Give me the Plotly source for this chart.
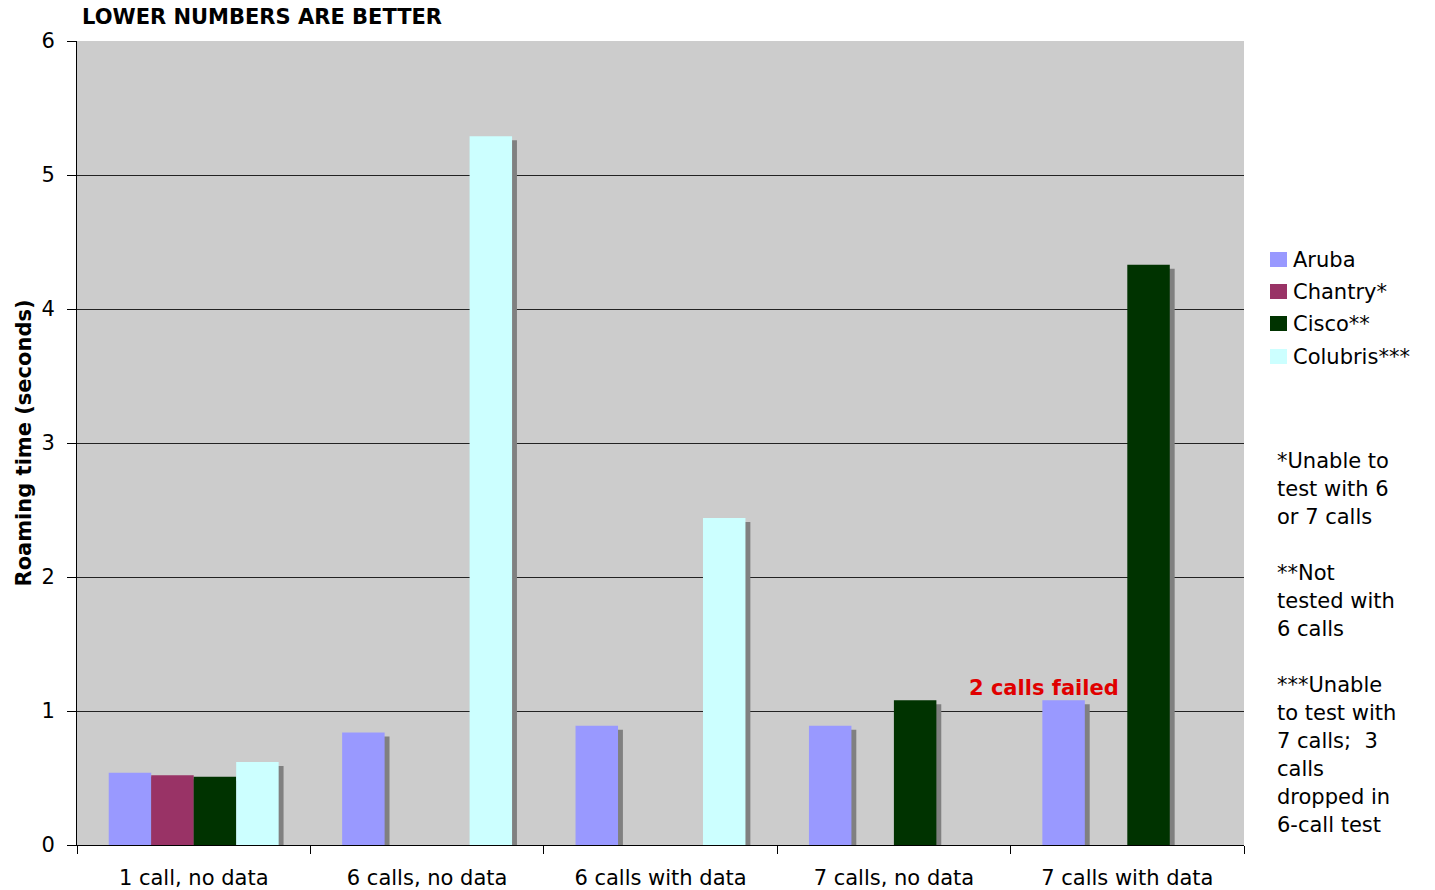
import plotly.graph_objects as go

categories = ["1 call, no data", "6 calls, no data", "6 calls with data",
              "7 calls, no data", "7 calls with data"]
series_names = ["Aruba", "Chantry*", "Cisco**", "Colubris***"]
aruba = [0.54, 0.84, 0.89, 0.89, 1.08]
chantry = [0.52, None, None, None, None]
cisco = [0.51, None, None, 1.08, 4.33]
colubris = [0.62, 5.29, 2.44, None, None]
series_values = [aruba, chantry, cisco, colubris]
colors = ["#9999FF", "#993366", "#003300", "#CCFFFF"]
y_ticks = [0, 1, 2, 3, 4, 5, 6]
footnotes = [["*Unable to", "test with 6", "or 7 calls"],
             ["**Not", "tested with", "6 calls"],
             ["***Unable", "to test with", "7 calls;  3", "calls", "dropped in", "6-call test"]]

FONT = "DejaVu Sans"
FS = 21
bar_w = 0.182
offsets = [-0.364, -0.182, 0.0, 0.182]
shadow_dx = 0.021
shadow_dy = 0.03

# plot area in pixels (for placing paper-referenced decorations)
L, R, T, B = 77, 1244, 41, 845
W, H = R - L, B - T
def px(x):
    return (x - L) / W
def py(y):
    return (B - y) / H

fig = go.Figure()
# drop shadows first
for vals, off in zip(series_values, offsets):
    sv = [None if v is None else v - shadow_dy for v in vals]
    fig.add_trace(go.Bar(x=categories, y=sv, offset=off + shadow_dx, width=bar_w,
                         marker=dict(color="#808080", line=dict(width=0)),
                         showlegend=False, hoverinfo="skip"))
for name, vals, off, col in zip(series_names, series_values, offsets, colors):
    fig.add_trace(go.Bar(x=categories, y=vals, name=name, offset=off, width=bar_w,
                         marker=dict(color=col, line=dict(width=0)),
                         showlegend=False))

fig.update_layout(
    width=1435, height=890,
    margin=dict(l=L, r=1435 - R, t=T, b=890 - B, autoexpand=False),
    barmode="overlay",
    paper_bgcolor="white",
    plot_bgcolor="#CCCCCC",
    font=dict(family=FONT, size=FS, color="black"),
    showlegend=False,
    xaxis=dict(type="category", categoryorder="array", categoryarray=categories,
               range=[-0.5, 4.5], showline=True, linecolor="black", linewidth=1,
               ticks="outside", tickson="boundaries", ticklen=8, tickcolor="black",
               showgrid=False, tickfont=dict(size=FS), ticklabelstandoff=14,
               automargin=False),
    yaxis=dict(range=[0, 6], tickvals=y_ticks, showline=True, linecolor="black",
               linewidth=1, ticks="outside", ticklen=9, tickcolor="black",
               showgrid=True, gridcolor="#222222", gridwidth=1, zeroline=False,
               tickfont=dict(size=FS), ticklabelstandoff=8, automargin=False,
               title=dict(text="<b>Roaming time (seconds)</b>", font=dict(size=FS), standoff=4)),
)

fig.add_annotation(text="<b>LOWER NUMBERS ARE BETTER</b>", xref="paper", yref="paper",
                   x=px(80), y=py(17), xanchor="left", yanchor="middle",
                   showarrow=False, font=dict(size=FS, family=FONT))
fig.add_annotation(text="<b>2 calls failed</b>", x=categories[4], y=1.17, xref="x", yref="y",
                   xanchor="right", yanchor="middle", xshift=-6, showarrow=False,
                   font=dict(size=FS, color="#E00000", family=FONT))

# legend drawn manually to match swatch size / spacing
leg_y = [260, 292, 324, 357]
for name, col, yc in zip(series_names, colors, leg_y):
    fig.add_shape(type="rect", xref="paper", yref="paper",
                  x0=px(1270), x1=px(1287), y0=py(yc - 8), y1=py(yc + 7),
                  fillcolor=col, line=dict(width=0))
    fig.add_annotation(text=name, xref="paper", yref="paper", x=px(1291), y=py(yc),
                       xanchor="left", yanchor="middle", showarrow=False,
                       font=dict(size=FS, family=FONT))

# footnotes, one annotation per line
line_h = 28
y_px = 461
for block in footnotes:
    for line in block:
        fig.add_annotation(text=line, xref="paper", yref="paper",
                           x=px(1275), y=py(y_px),
                           xanchor="left", yanchor="middle", showarrow=False, align="left",
                           font=dict(size=FS, family=FONT))
        y_px += line_h
    y_px += line_h

fig.write_html("out.html")
